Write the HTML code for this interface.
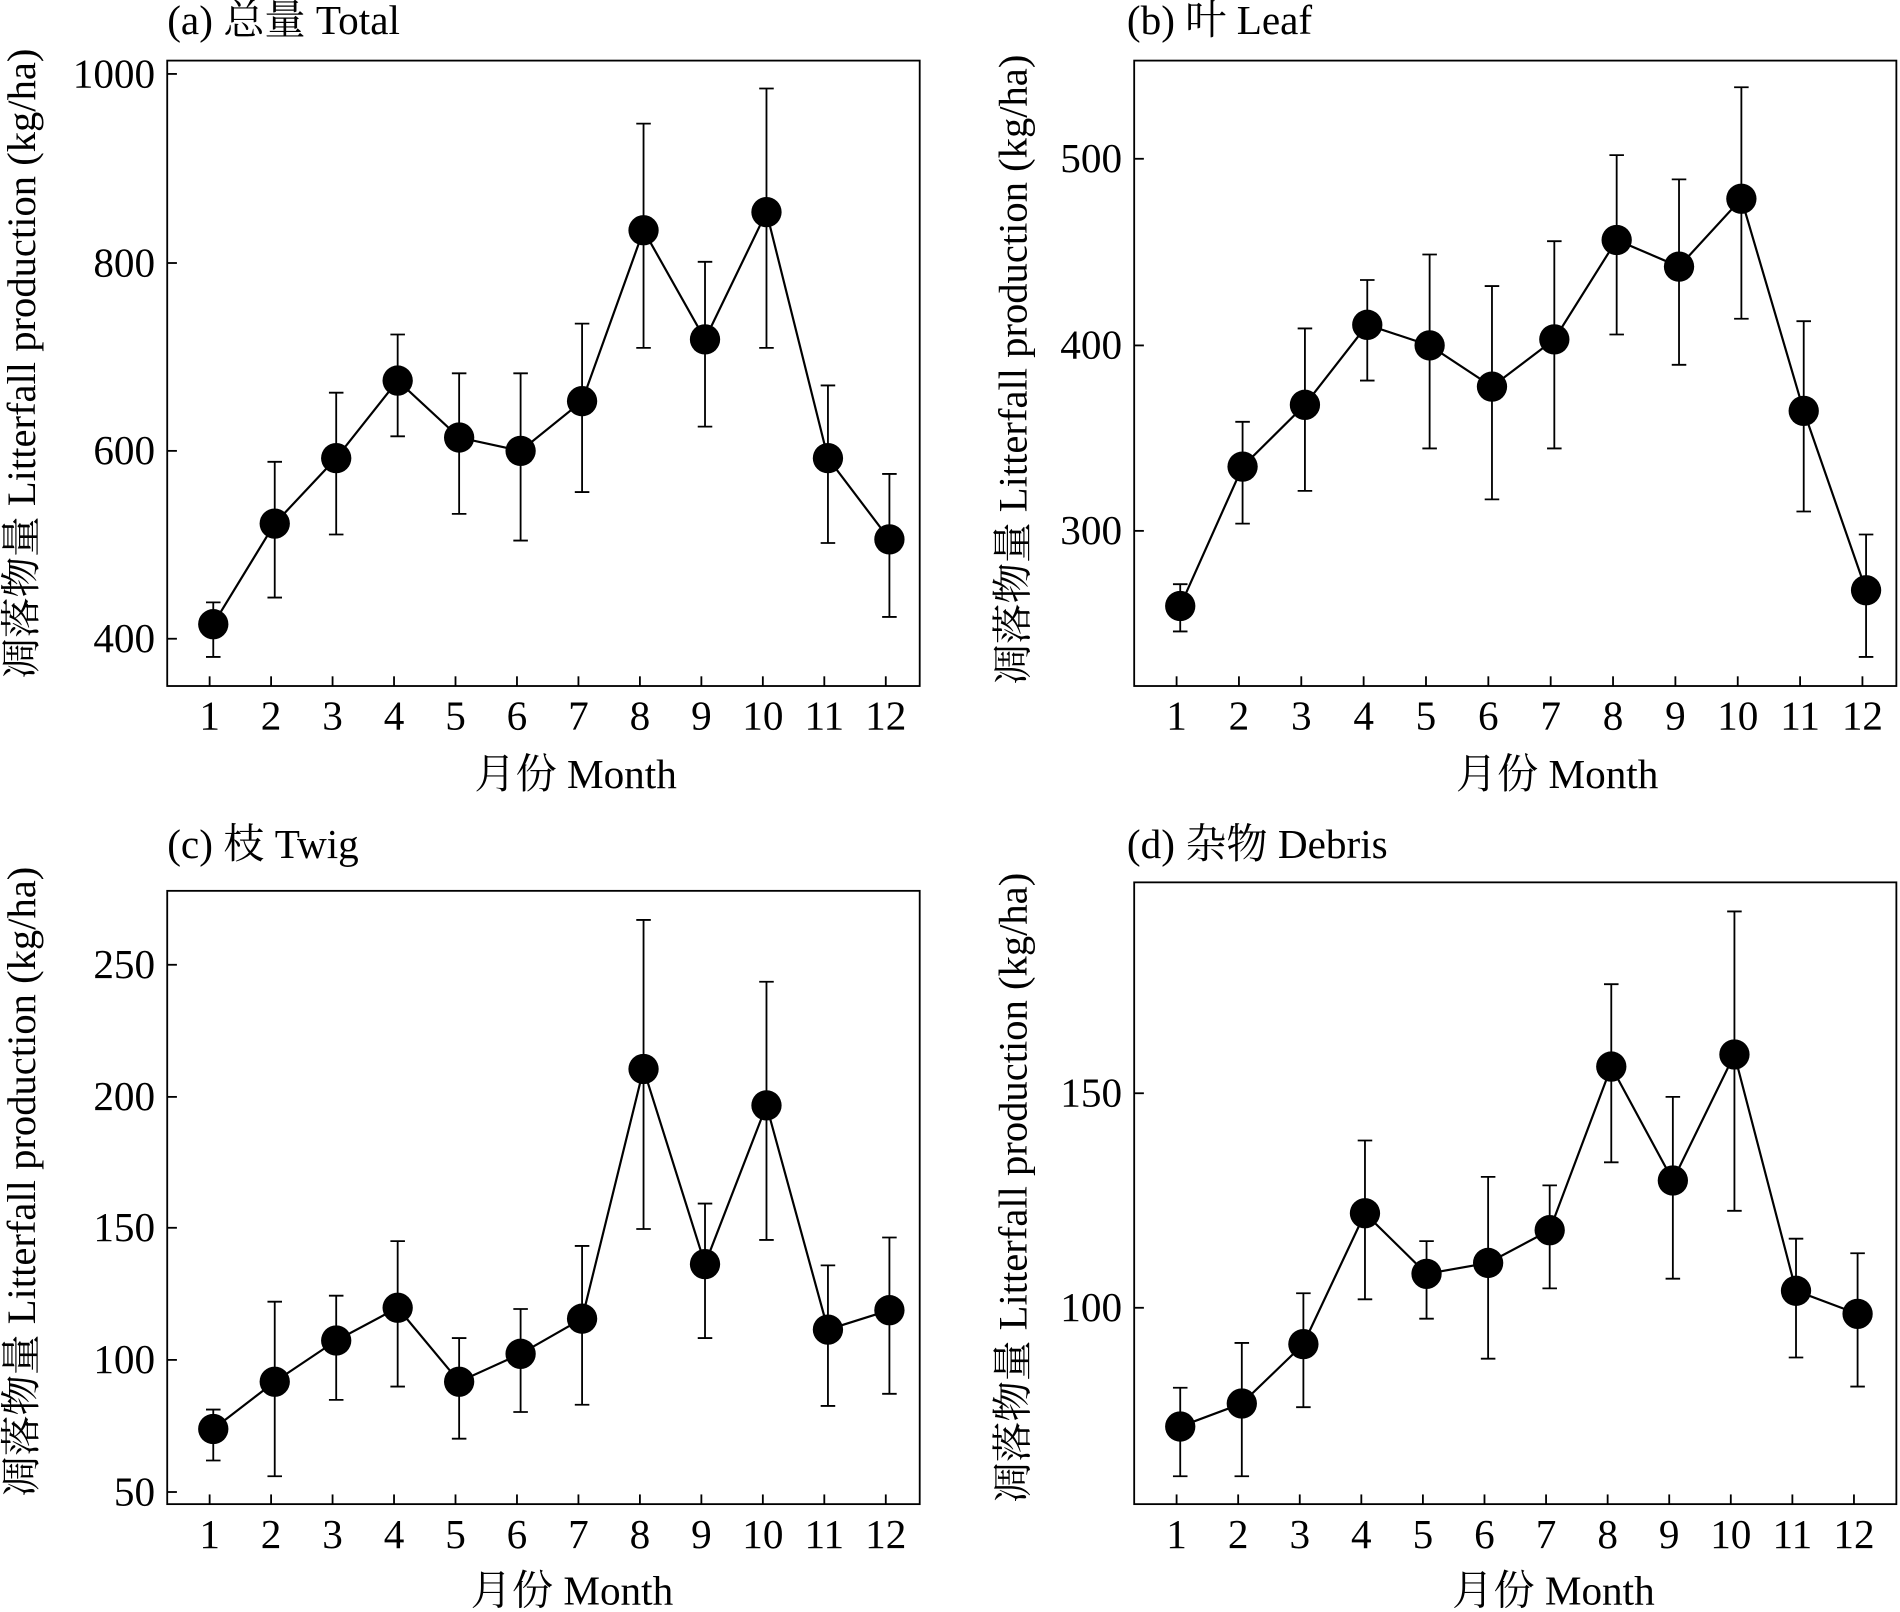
<!DOCTYPE html>
<html><head><meta charset="utf-8"><style>
html,body{margin:0;padding:0;background:#fff;}
svg{display:block;}
text{font-family:"Liberation Serif","Noto Serif CJK SC","Noto Sans CJK SC",serif;fill:#000;}
</style></head><body>
<svg id="s" width="1900" height="1612" viewBox="0 0 1568 1330" preserveAspectRatio="none" xmlns="http://www.w3.org/2000/svg"></svg>
<script>
var P=[
{box:[138,50,759,566],x1:173,x12:731,title:"(a) 总量 Total",tx:138,ty:28,ticks:[[1000,61],[800,217],[600,372],[400,527]],
pts:[515,432,378,314,361,372,331,190,280,175,378,445],
err:[[497,542],[381,493],[324,441],[276,360],[308,424],[308,446],[267,406],[102,287],[216,352],[73,287],[318,448],[391,509]],xl:[475,648],yl:[18,300]},
{box:[936,50,1565,566],x1:971,x12:1537,title:"(b) 叶 Leaf",tx:930,ty:28,ticks:[[500,131],[400,285],[300,438]],
pts:[500,385,334,268,285,319,280,198,220,164,339,487],
err:[[482,521],[348,432],[271,405],[231,314],[210,370],[236,412],[199,370],[128,276],[148,301],[72,263],[265,422],[441,542]],xl:[1285,648],yl:[836,305]},
{box:[138,735,759,1241],x1:173,x12:731,title:"(c) 枝 Twig",tx:138,ty:708,ticks:[[250,796],[200,905],[150,1013],[100,1122],[50,1231]],
pts:[1179,1140,1106,1079,1140,1117,1088,882,1043,912,1097,1081],
err:[[1163,1205],[1074,1218],[1069,1155],[1024,1144],[1104,1187],[1080,1165],[1028,1159],[759,1014],[993,1104],[810,1023],[1044,1160],[1021,1150]],xl:[472,1322],yl:[18,975]},
{box:[936,728,1565,1241],x1:971,x12:1530,title:"(d) 杂物 Debris",tx:930,ty:708,ticks:[[150,902],[100,1079]],
pts:[1177,1158,1109,1001,1051,1042,1015,880,974,870,1065,1084],
err:[[1145,1218],[1108,1218],[1067,1161],[941,1072],[1024,1088],[971,1121],[978,1063],[812,959],[905,1055],[752,999],[1022,1120],[1034,1144]],xl:[1282,1322],yl:[836,980]}
];
var h="";
P.forEach(function(p){
 var b=p.box;
 h+='<rect x="'+b[0]+'" y="'+b[1]+'" width="'+(b[2]-b[0])+'" height="'+(b[3]-b[1])+'" fill="none" stroke="#000" stroke-width="1.5"/>';
 h+='<text x="'+p.tx+'" y="'+p.ty+'" font-size="34">'+p.title+'</text>';
 p.ticks.forEach(function(t){h+='<line x1="'+b[0]+'" x2="'+(b[0]+8)+'" y1="'+t[1]+'" y2="'+t[1]+'" stroke="#000" stroke-width="1.5"/>';
  h+='<text x="'+(b[0]-10)+'" y="'+(t[1]+11)+'" font-size="34" text-anchor="end">'+t[0]+'</text>';});
 var st=(p.x12-p.x1)/11, xs=[];
 for(var i=0;i<12;i++){var x=p.x1+st*i;xs.push(x+3);
  h+='<line x1="'+x+'" x2="'+x+'" y1="'+b[3]+'" y2="'+(b[3]-8)+'" stroke="#000" stroke-width="1.5"/>';
  h+='<text x="'+x+'" y="'+(b[3]+36)+'" font-size="34" text-anchor="middle">'+(i+1)+'</text>';}
 var d="";
 for(i=0;i<12;i++){d+=(i?"L":"M")+xs[i]+","+p.pts[i];
  var e=p.err[i];h+='<path d="M'+xs[i]+','+e[0]+'V'+e[1]+'M'+(xs[i]-6)+','+e[0]+'h12M'+(xs[i]-6)+','+e[1]+'h12" stroke="#000" stroke-width="1.5" fill="none"/>';}
 h+='<path d="'+d+'" stroke="#000" stroke-width="1.8" fill="none"/>';
 for(i=0;i<12;i++)h+='<circle cx="'+xs[i]+'" cy="'+p.pts[i]+'" r="12.5" fill="#000"/>';
 h+='<text x="'+p.xl[0]+'" y="'+(p.xl[1]+2)+'" font-size="34" text-anchor="middle">月份 Month</text>';
 h+='<text transform="translate('+(p.yl[0]+11)+','+p.yl[1]+') rotate(-90)" font-size="33.5" text-anchor="middle">凋落物量 Litterfall production (kg/ha)</text>';
});
document.getElementById("s").innerHTML=h;
</script>
</body></html>
